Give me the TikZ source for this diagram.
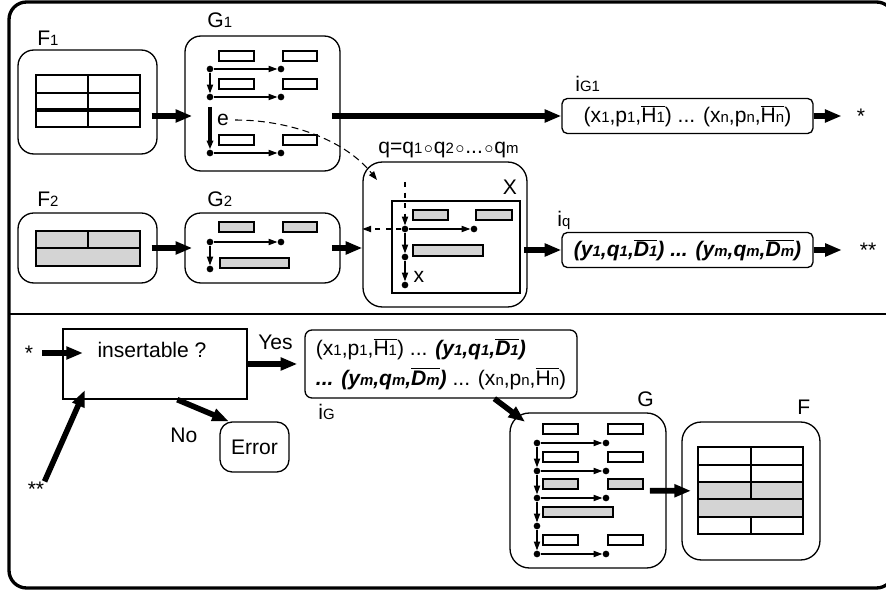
\documentclass[tikz,border=0pt]{standalone}
\usepackage{fontspec}
\setmainfont{Liberation Sans}
\usetikzlibrary{arrows.meta}
\definecolor{cellgray}{HTML}{D4D4D4}
\newcommand\sub[1]{{\fontsize{8.5}{8.5}\selectfont #1}}
\newcommand\ovl[1]{$\overline{\hbox{#1}}$}
\newcommand\comp{\kern1pt{\fontsize{10}{10}\selectfont$\circ$}\kern0.5pt}

\begin{document}
\begin{tikzpicture}[x=0.02cm,y=-0.02cm,font=\fontsize{12}{17}\selectfont,
    panel/.style={draw,line width=0.75pt,rounded corners=9pt,inner sep=0pt},
    seqbox/.style={draw,line width=0.75pt,rounded corners=3pt,inner sep=2pt},
    cell/.style={draw,line width=0.6pt,fill=white},
    dot/.style={circle,fill,inner sep=0pt,minimum size=3.8pt},
    link/.style={line width=0.6pt,-{Triangle[length=5pt,width=3.6pt]}},
    flow/.style={line width=3.2pt,-{Triangle[length=9.5pt,width=7pt]}},
    tag/.style={anchor=base west,inner sep=0pt}]
  \useasboundingbox (0,0) rectangle (886,594);
  \draw[line width=1.9pt,rounded corners=10pt] (9,2) rectangle (894,588);
  \draw[line width=1.2pt] (9,314) -- (894,314);

  % F1
  \node[panel,minimum width=2.78cm,minimum height=2.08cm] (F1) at (87.5,102) {};
  \node[tag] at (37,46) {F\sub1};
  \draw[line width=0.6pt] (36,75) rectangle (140,127) (88,75) -- (88,127) (36,93) -- (140,93);
  \draw[line width=1.9pt] (36,110) -- (140,110);

  % G1
  \node[panel,minimum width=3.1cm,minimum height=2.7cm] (G1) at (262.5,103.5) {};
  \node[tag] at (207,28) {G\sub1};
  \foreach \y/\n in {69/a,97/b,153/c}{
    \draw[cell] (219,\y-18) rectangle (254,\y-8);
    \draw[cell] (283,\y-18) rectangle (317,\y-8);
    \node[dot] (g1l\n) at (210,\y) {};
    \node[dot] (g1r\n) at (281,\y) {};
    \draw[link] (g1l\n) -- (g1r\n);
  }
  \draw[link] (g1la) -- (g1lb);
  \draw[link,line width=2.2pt,shorten <=3.5pt] (g1lb) -- (g1lc);
  \node (e) at (223,120) {e};

  % F2
  \node[panel,minimum width=2.78cm,minimum height=1.4cm] (F2) at (87.5,248) {};
  \node[tag] at (37,207) {F\sub2};
  \draw[line width=0.6pt,fill=cellgray] (36,231) rectangle (140,266) (36,248) -- (140,248) (88,231) -- (88,248);

  % G2
  \node[panel,minimum width=3.1cm,minimum height=1.4cm] (G2) at (262.5,248) {};
  \node[tag] at (207,207) {G\sub2};
  \draw[cell,fill=cellgray] (219,222) rectangle (254,232);
  \draw[cell,fill=cellgray] (283,222) rectangle (317,232);
  \draw[cell,fill=cellgray] (220,258) rectangle (289,268);
  \node[dot] (g2a) at (210,242) {};
  \node[dot] (g2b) at (281,242) {};
  \node[dot] (g2c) at (210,269) {};
  \draw[link] (g2a) -- (g2b);
  \draw[link] (g2a) -- (g2c);

  % X
  \node[panel,rounded corners=11pt,minimum width=3.28cm,minimum height=2.9cm] (X) at (445,234.5) {};
  \node[tag] at (378,154) {q=q\sub1\comp q\sub2\comp...\comp q\sub m};
  \node at (510,187) {X};
  \draw[line width=0.75pt] (392,201) rectangle (520,293);
  \draw[cell,fill=cellgray] (413,210) rectangle (448,220);
  \draw[cell,fill=cellgray] (476,210) rectangle (512,220);
  \draw[cell,fill=cellgray] (413,245) rectangle (483,256);
  \node[dot] (xa) at (405,229) {};
  \node[dot] (xb) at (474,229) {};
  \node[dot] (xc) at (405,257) {};
  \node[dot] (xd) at (405,285) {};
  \node at (419,277) {x};
  \coordinate (xtop) at (405,182);
  \draw[link,dashed] (xtop) -- (xa);
  \draw[link,dashed] (xa) -- (xa -| X.west);
  \draw[link] (xa) -- (xb);
  \draw[link] (xa) -- (xc);
  \draw[link] (xc) -- (xd);

  % edge e goes into X
  \coordinate (qin) at (377,180);
  \draw[link,dash pattern=on 4pt off 2.5pt] (e.east) .. controls (290,120) and (345,140) .. (qin);

  % sequences
  \node[seqbox,minimum width=5.02cm,minimum height=0.7cm] (iG1) at (687.5,116)
    {(x\sub1,p\sub1,\ovl{H\sub1}) ... (x\sub n,p\sub n,\ovl{H\sub n})};
  \node[tag] at (575,92) {i\sub{G1}};
  \node[seqbox,minimum width=5.02cm,minimum height=0.7cm,font=\fontsize{12}{17}\selectfont\bfseries\itshape] (iq) at (687.5,250)
    {(y\sub1,q\sub1,\ovl{D\sub1}) ... (y\sub m,q\sub m,\ovl{D\sub m})};
  \node[tag] at (557,227) {i\sub q};
  \node[inner sep=0pt] (s1) at (861,116) {*};
  \node[inner sep=0pt] (s2) at (868,250) {**};

  \draw[flow,shorten <=-3.4pt,shorten >=-4.5pt] (F1.east |- iG1.west) -- (G1.west |- iG1.west);
  \draw[flow,shorten <=-5pt] (G1.east |- iG1.west) -- (iG1.west);
  \draw[flow,shorten >=8.5pt] (iG1) -- (s1);
  \draw[flow,shorten <=-3.4pt,shorten >=-4.5pt] (F2) -- (G2);
  \draw[flow,shorten <=-5pt] (G2) -- (X.west |- G2);
  \draw[flow,shorten <=-2pt] (X.east |- iq.west) -- (iq.west);
  \draw[flow,shorten >=10pt] (iq) -- (s2);

  % insertion test
  \node[draw,line width=0.75pt,minimum width=3.68cm,minimum height=1.4cm] (ins) at (155,364) {};
  \node[anchor=base] at (152,358) {insertable ?};
  \node[inner sep=0pt] (s3) at (29,353) {*};
  \node[inner sep=0pt] (s4) at (36,489) {**};
  \coordinate (in1) at (83,353);
  \coordinate (in2) at (85,390);
  \draw[flow,shorten <=5pt] (s3) -- (in1);
  \draw[flow] (s4.north east) -- (in2);

  \node[seqbox,rounded corners=4pt,align=left,minimum width=5.44cm,minimum height=1.36cm] (iG) at (441,364)
    {(x\sub1,p\sub1,\ovl{H\sub1}) ... {\bfseries\itshape(y\sub1,q\sub1,\ovl{D\sub1})}\\
     {\bfseries\itshape... (y\sub m,q\sub m,\ovl{D\sub m})} ... (x\sub n,p\sub n,\ovl{H\sub n})};
  \node[tag] at (318,420) {i\sub G};
  \node[tag] at (258,350) {Yes};
  \draw[flow,shorten >=4pt] (ins) -- (iG);

  \node[draw,line width=0.75pt,rounded corners=7pt,minimum width=1.38cm,minimum height=1cm] (err) at (254.5,447) {Error};
  \node[tag] at (170,442) {No};
  \draw[flow] (ins.-58) -- (err.135);

  % G
  \node[panel,rounded corners=11pt,minimum width=3.12cm,minimum height=3.1cm] (G) at (588,490.5) {};
  \node[tag] at (637,407) {G};
  \foreach \y/\n/\c in {443/1/white,471/2/white,498/3/cellgray,554/5/white}{
    \draw[cell,fill=\c] (543,\y-19) rectangle (578,\y-9);
    \draw[cell,fill=\c] (608,\y-19) rectangle (643,\y-9);
    \node[dot] (gl\n) at (537,\y) {};
    \node[dot] (gr\n) at (606,\y) {};
    \draw[link] (gl\n) -- (gr\n);
  }
  \draw[cell,fill=cellgray] (543,507) rectangle (613,517);
  \node[dot] (gl4) at (537,526) {};
  \foreach \a/\b in {1/2,2/3,3/4,4/5}
    \draw[link] (gl\a) -- (gl\b);
  \draw[flow,shorten >=-9pt] (iG.-33) -- (G.134);

  % F
  \node[panel,rounded corners=11pt,minimum width=2.76cm,minimum height=2.76cm] (F) at (751,491) {};
  \node[tag] at (797,415) {F};
  \fill[cellgray] (698,482) rectangle (803,517);
  \draw[line width=0.6pt] (698,447) rectangle (803,534);
  \foreach \y in {465,482,499,517}
    \draw[line width=0.6pt] (698,\y) -- (803,\y);
  \draw[line width=0.6pt] (751,447) -- (751,499) (751,517) -- (751,534);
  \draw[flow,shorten <=-9.5pt,shorten >=-5.5pt] (G) -- (F);
\end{tikzpicture}
\end{document}
